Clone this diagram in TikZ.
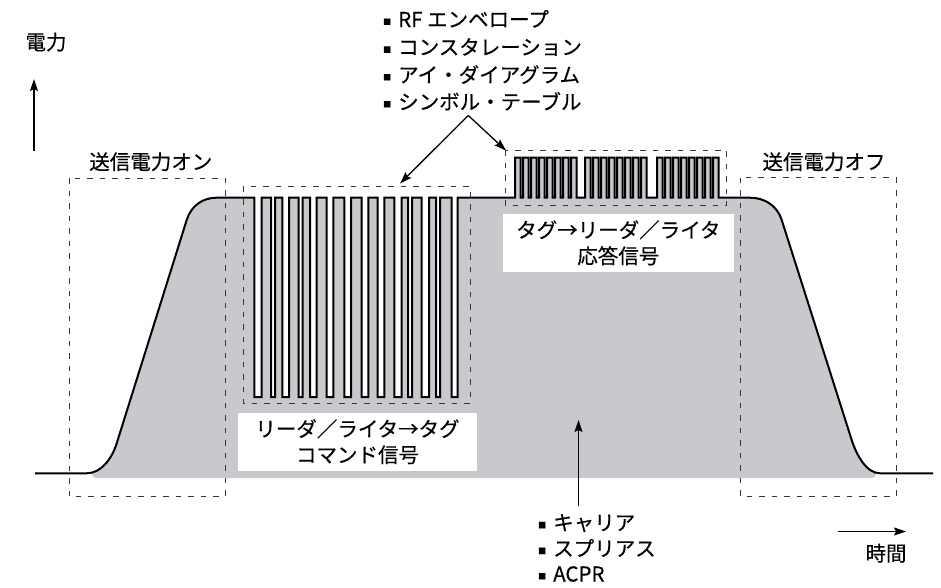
\documentclass[tikz,border=0pt]{standalone}
\usepackage{fontspec}
\setmainfont{Noto Sans CJK JP}[BoldFont=Noto Sans CJK JP, BoldFeatures={FakeBold=0.3}]
\usetikzlibrary{arrows.meta}
\definecolor{envgray}{RGB}{200,201,204}
\definecolor{dashgray}{RGB}{55,55,55}
\newcommand\bsq{\raisebox{2.2pt}{\fontsize{8}{8}\selectfont ■}\hspace{7pt}}
\begin{document}
\begin{tikzpicture}[x=1pt,y=-1pt,
  lbl/.style={font=\fontsize{20.5}{26}\selectfont\bfseries, inner sep=0pt},
  dbox/.style={draw=dashgray, line width=1pt, dash pattern=on 5.5pt off 7pt},
  env/.style={line width=2pt, line join=miter, black},
  arr/.style={line width=1.3pt, -{Stealth[length=12pt,width=8pt,inset=2pt]}},
  wbox/.style={fill=white, inner sep=0pt, align=center, font=\fontsize{20.5}{26}\selectfont\bfseries}]
\useasboundingbox (0,0) rectangle (941,587);

% gray area under the signal
\begin{scope}
\clip[rounded corners=4pt] (92,120) rectangle (876,478);
\fill[envgray] (35,473.3) -- (86.7,473.3)
  .. controls (101.7,473.3) and (112.2,457.7) .. (116.7,443.3)
  -- (186.7,220) .. controls (191.2,205.6) and (202.7,197.7) .. (216.7,197.7)
  \foreach \a/\b in {254.3/261.7,271/275,282.3/289,298.5/302.5,310/316.7,326.7/333.3,344.3/351,361.5/368.3,377.7/384.3,394.3/401.7,408/412,421.7/429,436/440,451.7/457.7}
    { -- (\a,197.7) -- (\a,397) -- (\b,397) -- (\b,197.7) }
  \foreach \s in {515,523,...,571,585,593,...,641,657,665,...,713}
    { -- (\s,197.7) -- (\s,157.5) -- ({\s+5.5},157.5) -- ({\s+5.5},197.7) }
  -- (750,197.7) .. controls (765,197.7) and (777.2,205.9) .. (781.7,220)
  -- (851.7,440) .. controls (856.2,454.1) and (866,473.3) .. (880,473.3)
  -- (933,473.3) -- (933,478) -- (35,478) -- cycle;
\end{scope}

% white label boxes
\node[wbox, minimum width=238.4pt, minimum height=58pt] (cmd) at (357.5,441.7)
  {リーダ／ライタ→タグ\\コマンド信号};
\node[wbox, minimum width=231.3pt, minimum height=57.7pt] (resp) at (618.3,242.8)
  {タグ→リーダ／ライタ\\応答信号};

% dashed boxes
\draw[dbox] (69.3,178.3) rectangle (225,496.7);
\draw[dbox] (740.7,177.7) rectangle (896,496.5);
\draw[dbox] (243.3,186.7) rectangle (470.7,403.3);
\draw[dbox] (505,150) rectangle (726.7,205);

% envelope line
\draw[env] (35,473.3) -- (86.7,473.3)
  .. controls (101.7,473.3) and (112.2,457.7) .. (116.7,443.3)
  -- (186.7,220) .. controls (191.2,205.6) and (202.7,197.7) .. (216.7,197.7)
  \foreach \a/\b in {254.3/261.7,271/275,282.3/289,298.5/302.5,310/316.7,326.7/333.3,344.3/351,361.5/368.3,377.7/384.3,394.3/401.7,408/412,421.7/429,436/440,451.7/457.7}
    { -- (\a,197.7) -- (\a,397) -- (\b,397) -- (\b,197.7) }
  \foreach \s in {515,523,...,571,585,593,...,641,657,665,...,713}
    { -- (\s,197.7) -- (\s,157.5) -- ({\s+5.5},157.5) -- ({\s+5.5},197.7) }
  -- (750,197.7) .. controls (765,197.7) and (777.2,205.9) .. (781.7,220)
  -- (851.7,440) .. controls (856.2,454.1) and (866,473.3) .. (880,473.3)
  -- (933,473.3);

% box titles
\node[lbl, anchor=base] (on) at (150.8,169.5) {送信電力オン};
\node[lbl, anchor=base] (off) at (824,169.5) {送信電力オフ};

% axes
\node[lbl, anchor=base] (pw) at (46,49.8) {電力};
\coordinate (pwbot) at (34,151);
\coordinate (pwtop) at (34,79);
\draw[arr] (pwbot) -- (pwtop);
\node[lbl, anchor=base] (tm) at (886,561) {時間};
\coordinate (tmleft) at (838,531.5);
\coordinate (tmright) at (906,531.5);
\draw[arr] (tmleft) -- (tmright);

% top list
\node[lbl, anchor=base west] (t1) at (383,27) {\bsq RF エンベロープ};
\node[lbl, anchor=base west] (t2) at (383,54.8) {\bsq コンスタレーション};
\node[lbl, anchor=base west] (t3) at (383,82.5) {\bsq アイ・ダイアグラム};
\node[lbl, anchor=base west] (t4) at (383,109.5) {\bsq シンボル・テーブル};
\coordinate (apex) at (468.3,115.5);
\coordinate (tipL) at (400,183.5);
\coordinate (tipR) at (506,150.5);
\draw[arr] (apex) -- (tipL);
\draw[arr] (apex) -- (tipR);

% bottom list
\node[lbl, anchor=base west] (b1) at (538,530.3) {\bsq キャリア};
\node[lbl, anchor=base west] (b2) at (538,556.1) {\bsq スプリアス};
\node[lbl, anchor=base west] (b3) at (538,581.5) {\bsq ACPR};
\coordinate (carbot) at (578.5,506);
\coordinate (cartop) at (578.5,420);
\draw[arr] (carbot) -- (cartop);
\end{tikzpicture}
\end{document}
